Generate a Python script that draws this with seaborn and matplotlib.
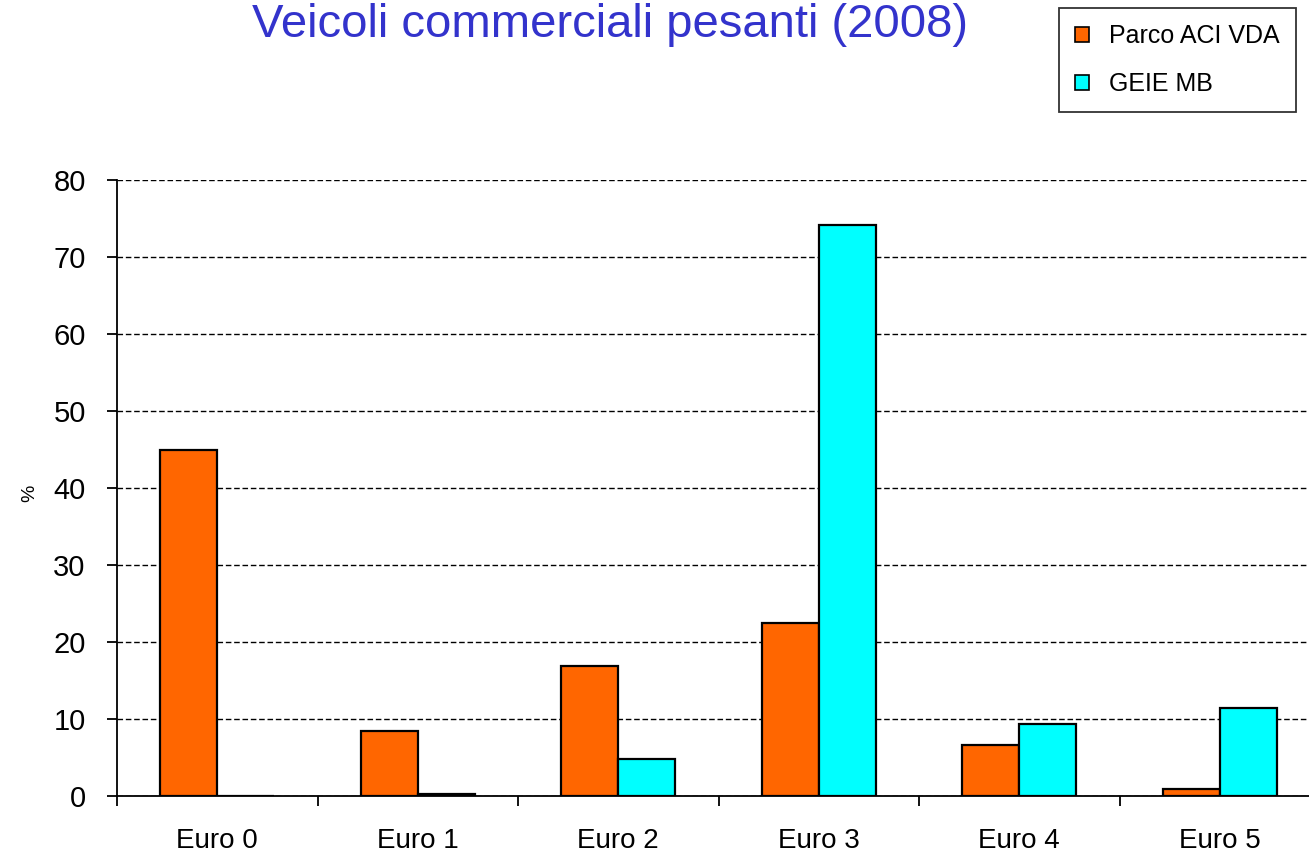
import matplotlib
matplotlib.use("Agg")
import matplotlib.pyplot as plt
import seaborn as sns
import pandas as pd
from matplotlib.patches import Patch

categories = ["Euro 0", "Euro 1", "Euro 2", "Euro 3", "Euro 4", "Euro 5"]
parco_aci = [45.0, 8.4, 16.9, 22.5, 6.6, 0.9]
geie_mb = [0.0, 0.25, 4.8, 74.2, 9.3, 11.4]
series_names = ["Parco ACI VDA", "GEIE MB"]
colors = ["#FF6600", "#00FFFF"]

df = pd.DataFrame({
    "cat": categories * 2,
    "val": parco_aci + geie_mb,
    "serie": [series_names[0]] * 6 + [series_names[1]] * 6,
})

sns.set_style("white")
plt.rcParams["font.family"] = ["Liberation Sans", "DejaVu Sans"]
plt.rcParams["text.color"] = "black"
plt.rcParams["xtick.color"] = "black"
plt.rcParams["ytick.color"] = "black"
plt.rcParams["axes.labelcolor"] = "black"

W, H = 1309, 856
fig = plt.figure(figsize=(W / 100, H / 100), dpi=100)
left, right, top, bottom = 117, 1320, 180, 796
ax = fig.add_axes([left / W, 1 - bottom / H, (right - left) / W, (bottom - top) / H])

sns.barplot(data=df, x="cat", y="val", hue="serie", palette=colors, width=0.57,
            edgecolor="black", linewidth=1.6, ax=ax, legend=False, saturation=1)

ax.set_xlim(-0.5, 5.5)
ax.set_ylim(0, 80)
ax.set_yticks(range(0, 81, 10))
ax.yaxis.grid(True, linestyle=(0, (4, 2)), color="black", linewidth=1.0)
ax.xaxis.grid(False)
ax.set_axisbelow(True)
for s in ["top", "right"]:
    ax.spines[s].set_visible(False)
for s in ["left", "bottom"]:
    ax.spines[s].set_color("black")
    ax.spines[s].set_linewidth(1.3)

ax.set_xticks(range(6))
ax.set_xticklabels(categories)
ax.set_xticks([i - 0.5 for i in range(7)], minor=True)
ax.tick_params(axis="x", which="major", bottom=False, length=0, labelsize=20, pad=23,
               labelcolor="black")
ax.tick_params(axis="x", which="minor", bottom=True, length=7.5, width=1.3,
               direction="out", color="black")
ax.tick_params(axis="y", which="major", left=True, length=7.5, width=1.3, direction="out",
               color="black", labelsize=21, pad=15, labelcolor="black")
ax.set_xlabel("")
ax.set_ylabel("")
fig.text(30 / W, 1 - 493 / H, "%", rotation=90, ha="center", va="center",
         fontsize=14, color="black")

fig.text(610 / W, 1 - 37 / H, "Veicoli commerciali pesanti (2008)", ha="center",
         va="baseline", fontsize=34, color="#3333CC")

handles = [Patch(facecolor=c, edgecolor="black", linewidth=1.2) for c in colors]
leg = fig.legend(handles, series_names, loc="upper right",
                 bbox_to_anchor=(1296 / W, 1 - 8 / H), fontsize=18, frameon=True,
                 fancybox=False, edgecolor="black", handlelength=0.55, handleheight=0.55,
                 handletextpad=0.8, labelspacing=0.95, borderpad=0.65, borderaxespad=0,
                 labelcolor="black")
leg.get_frame().set_linewidth(1.3)

fig.savefig("out.png", dpi=100)
